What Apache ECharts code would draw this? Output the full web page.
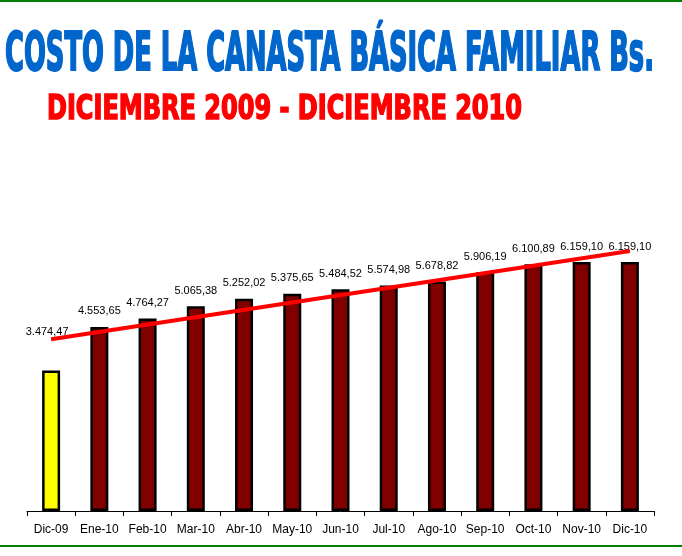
<!DOCTYPE html>
<html>
<head>
<meta charset="utf-8">
<script src="https://cdn.jsdelivr.net/npm/echarts@6/dist/echarts.min.js"></script>
<style>
  html, body { margin: 0; padding: 0; background: #fff; }
  #chart { width: 682px; height: 556px; }
</style>
</head>
<body>
<div id="chart"></div>
<script>
// meses
const categories = ['Dic-09', 'Ene-10', 'Feb-10', 'Mar-10', 'Abr-10', 'May-10', 'Jun-10',
  'Jul-10', 'Ago-10', 'Sep-10', 'Oct-10', 'Nov-10', 'Dic-10'];
// costo canasta Bs.
const costValues = [3474.47, 4553.65, 4764.27, 5065.38, 5252.02, 5375.65, 5484.52,
  5574.98, 5678.82, 5906.19, 6100.89, 6159.10, 6159.10];
// linea de tendencia (inicio y fin)
const trendValues = [4250, null, null, null, null, null, null, null, null, null, null, null, 6430];

const titleText = 'COSTO DE LA CANASTA BÁSICA FAMILIAR Bs.';
const subtitleText = 'DICIEMBRE 2009 - DICIEMBRE 2010';
const titleFont = 'bold 54px "Liberation Sans Narrow", "DejaVu Sans Condensed", "Arial Narrow", sans-serif';
const subFont = 'bold 34px "Liberation Sans Narrow", "DejaVu Sans Condensed", "Arial Narrow", sans-serif';

// formato 4.553,65
function fmt(v) {
  let parts = v.toFixed(2).split('.');
  parts[0] = parts[0].replace(/\B(?=(\d{3})+(?!\d))/g, '.');
  return parts[0] + ',' + parts[1];
}

// escala horizontal para que el texto ocupe el ancho del original
function fitScale(text, font, width) {
  const ctx = document.createElement('canvas').getContext('2d');
  ctx.font = font;
  return width / ctx.measureText(text).width;
}

const chart = echarts.init(document.getElementById('chart'));

const barData = costValues.map((v, i) => {
  if (i === 0) {
    return {
      value: v,
      itemStyle: { color: '#ffff00' },
      label: { distance: 33, offset: [-4, 0] }
    };
  }
  return v;
});

chart.setOption({
  animation: false,
  backgroundColor: '#ffffff',
  grid: { left: 27, right: 28, top: 228, bottom: 45 },
  xAxis: {
    type: 'category',
    data: categories,
    boundaryGap: true,
    axisLine: { lineStyle: { color: '#000', width: 1 } },
    axisTick: { show: true, length: 5, lineStyle: { color: '#000' } },
    axisLabel: {
      color: '#000',
      fontSize: 12,
      fontFamily: 'Arial, "Liberation Sans", sans-serif',
      margin: 13,
      interval: 0
    }
  },
  yAxis: {
    type: 'value',
    min: 0,
    max: 7000,
    show: false,
    splitLine: { show: false }
  },
  series: [
    {
      type: 'bar',
      data: barData,
      barWidth: 18,
      itemStyle: { color: '#800000', borderColor: '#000', borderWidth: 2.5 },
      label: {
        show: true,
        position: 'top',
        distance: 10,
        color: '#000',
        fontSize: 11,
        fontFamily: 'Arial, "Liberation Sans", sans-serif',
        formatter: (p) => fmt(p.value)
      },
      z: 2
    },
    {
      type: 'line',
      data: trendValues,
      connectNulls: true,
      symbol: 'none',
      lineStyle: { color: '#ff0000', width: 4 },
      z: 3,
      silent: true
    }
  ],
  graphic: [
    {
      type: 'line',
      shape: { x1: 0, y1: 1, x2: 682, y2: 1 },
      style: { stroke: '#008000', lineWidth: 2 }
    },
    {
      type: 'line',
      shape: { x1: 0, y1: 546, x2: 682, y2: 546 },
      style: { stroke: '#008000', lineWidth: 2 }
    },
    {
      type: 'text',
      x: 5,
      y: 56,
      scaleX: fitScale(titleText, titleFont, 649),
      style: {
        text: titleText,
        font: titleFont,
        fill: '#0066cc',
        stroke: '#0066cc',
        lineWidth: 2,
        align: 'left',
        verticalAlign: 'middle'
      }
    },
    {
      type: 'text',
      x: 47,
      y: 110,
      scaleX: fitScale(subtitleText, subFont, 475),
      style: {
        text: subtitleText,
        font: subFont,
        fill: '#ff0000',
        stroke: '#ff0000',
        lineWidth: 1.5,
        align: 'left',
        verticalAlign: 'middle'
      }
    }
  ]
});
</script>
</body>
</html>
